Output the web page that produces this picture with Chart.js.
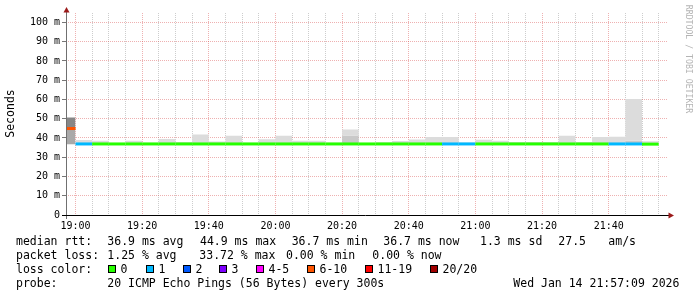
<!DOCTYPE html>
<html><head><meta charset="utf-8">
<script src="https://cdn.jsdelivr.net/npm/chart.js@4.4.1/dist/chart.umd.min.js"></script>
<style>html,body{margin:0;padding:0;background:#fff;overflow:hidden}canvas{display:block}</style>
</head><body>
<canvas id="c" width="697" height="297"></canvas>
<script>
// ---- data ----
const slotStarts = ['18:55','19:00','19:05','19:10','19:15','19:20','19:25','19:30','19:35','19:40','19:45','19:50','19:55',
  '20:00','20:05','20:10','20:15','20:20','20:25','20:30','20:35','20:40','20:45','20:50','20:55',
  '21:00','21:05','21:10','21:15','21:20','21:25','21:30','21:35','21:40','21:45','21:50'];
const slotEnd = '21:55';
const medianMs = [44.9,36.9,36.9,36.9,36.9,36.9,36.9,36.9,36.9,36.9,36.9,36.9,36.9,36.9,36.9,36.9,36.9,36.9,36.9,36.9,36.9,36.9,36.9,36.9,36.9,36.9,36.9,36.9,36.9,36.9,36.9,36.9,36.9,36.9,36.9,36.8];
const lostPings = [7,1,0,0,0,0,0,0,0,0,0,0,0,0,0,0,0,0,0,0,0,0,0,1,1,0,0,0,0,0,0,0,0,1,1,0];
const smokeLowMs = [36.7,36.6,36.6,36.6,36.6,36.6,36.6,36.6,36.6,36.6,36.6,36.6,36.6,36.6,36.6,36.6,36.6,36.6,36.6,36.6,36.6,36.6,36.6,36.6,36.6,36.6,36.6,36.6,36.6,36.6,36.6,36.6,36.6,36.6,36.6,36.6];
const smokeMidMs = [44.9,36.6,36.6,36.6,36.6,36.6,36.6,36.6,36.6,36.6,36.6,36.6,36.6,36.6,36.6,36.6,36.6,41.2,36.6,36.6,36.6,36.6,36.6,36.6,36.6,36.6,36.6,36.6,36.6,36.6,36.6,36.6,36.6,36.6,38.6,36.6];
const smokeTopMs = [50.6,39.0,38.6,37.4,38.6,37.5,39.5,37.9,41.8,38.2,41.2,37.5,39.4,41.2,38.5,38.5,37.5,44.4,37.4,37.8,38.4,39.2,40.5,40.5,37.6,39.1,38.6,37.9,37.9,37.9,41.1,37.9,40.5,40.7,60.2,38.3];
const xTickLabels = ['19:00','19:20','19:40','20:00','20:20','20:40','21:00','21:20','21:40'];
const yTickLabels = ['0','10 m','20 m','30 m','40 m','50 m','60 m','70 m','80 m','90 m','100 m'];
const lossBuckets = ['0','1','2','3','4-5','6-10','11-19','20/20'];
const lossColors = ['#26ff00','#00b8ff','#0059ff','#7e00ff','#ff00ff','#ff5500','#ff0000','#a10000'];
const rttStats = ['36.9 ms avg','44.9 ms max','36.7 ms min','36.7 ms now','1.3 ms sd','27.5','am/s'];
const lossStats = ['1.25 % avg','33.72 % max','0.00 % min','0.00 % now'];
const probeText = '20 ICMP Echo Pings (56 Bytes) every 300s';
const stampText = 'Wed Jan 14 21:57:09 2026';

// ---- helpers ----
const toMin = s => { const [h,m] = s.split(':').map(Number); return (h-19)*60 + m; };
const slotEndMin = i => i+1 < slotStarts.length ? toMin(slotStarts[i+1]) : toMin(slotEnd);
const pts = arr => slotStarts.map((s,i)=>({x:toMin(s), y:arr[i]})).concat([{x:toMin(slotEnd), y:arr[arr.length-1]}]);
// median as separate horizontal pieces (start, end, gap) per slot
const medianPts = () => { const out=[]; slotStarts.forEach((s,i)=>{ out.push({x:toMin(s), y:medianMs[i]}, {x:slotEndMin(i), y:medianMs[i]}, {x:slotEndMin(i), y:null}); }); return out; };
const lossIdx = n => n<=0?0 : n===1?1 : n===2?2 : n===3?3 : n<=5?4 : n<=10?5 : n<20?6 : 7;
const MAJOR = 'rgba(215,70,70,0.42)', MINOR = 'rgba(130,130,130,0.40)';
const MONO = '"DejaVu Sans Mono", monospace';

const decor = {
  id:'decor',
  afterDraw(chart){
    const ctx = chart.ctx, a = chart.chartArea;
    ctx.save();
    // axes
    ctx.lineWidth = 1;
    ctx.strokeStyle = '#707070';
    ctx.beginPath(); ctx.moveTo(a.left+0.5, a.bottom+4); ctx.lineTo(a.left+0.5, 11); ctx.stroke();
    ctx.strokeStyle = '#000';
    ctx.beginPath(); ctx.moveTo(a.left-4, a.bottom+0.5); ctx.lineTo(a.right+1, a.bottom+0.5); ctx.stroke();
    ctx.fillStyle = '#9b1a1a';
    ctx.beginPath(); ctx.moveTo(a.left+0.5, 7); ctx.lineTo(a.left-2.5, 12.5); ctx.lineTo(a.left+3.5, 12.5); ctx.closePath(); ctx.fill();
    ctx.beginPath(); ctx.moveTo(a.right+6, a.bottom+0.5); ctx.lineTo(a.right+0.5, a.bottom-2.5); ctx.lineTo(a.right+0.5, a.bottom+3.5); ctx.closePath(); ctx.fill();
    // y title
    ctx.fillStyle = '#000';
    ctx.font = '11.5px ' + MONO;
    ctx.textAlign = 'center'; ctx.textBaseline = 'middle';
    ctx.save(); ctx.translate(11, 113.5); ctx.rotate(-Math.PI/2); ctx.fillText('Seconds', 0, 0); ctx.restore();
    // watermark
    ctx.save(); ctx.fillStyle = '#b4b4b4'; ctx.font = '8.2px ' + MONO;
    ctx.translate(688.5, 59); ctx.rotate(Math.PI/2); ctx.fillText('RRDTOOL / TOBI OETIKER', 0, 0); ctx.restore();
    // legend
    ctx.textAlign = 'left'; ctx.textBaseline = 'alphabetic';
    ctx.font = '11.5px ' + MONO; ctx.fillStyle = '#000';
    const row1 = [[16,'median rtt:'],[107.3,rttStats[0]],[200,rttStats[1]],[291.7,rttStats[2]],[383.3,rttStats[3]],[480,rttStats[4]],[558.3,rttStats[5]],[608.3,rttStats[6]]];
    const row2 = [[16,'packet loss:'],[107.3,lossStats[0]],[199.3,lossStats[1]],[286,lossStats[2]],[372.3,lossStats[3]]];
    const row4 = [[16,'probe:'],[107.3,probeText],[513.3,stampText]];
    row1.forEach(([x,t])=>ctx.fillText(t,x,244.5));
    row2.forEach(([x,t])=>ctx.fillText(t,x,258.5));
    row4.forEach(([x,t])=>ctx.fillText(t,x,286.5));
    ctx.fillText('loss color:',16,272.5);
    const swX = [108,146,183,219,256,307,365,430];
    lossBuckets.forEach((b,i)=>{
      ctx.fillStyle = lossColors[i]; ctx.fillRect(swX[i],265,8,8);
      ctx.strokeStyle = '#000'; ctx.strokeRect(swX[i]+0.5,265.5,7,7);
      ctx.fillStyle = '#000'; ctx.fillText(b, swX[i]+12.5, 272.5);
    });
    ctx.restore();
  }
};

const lineBase = {stepped:true, pointRadius:0, borderWidth:0, borderColor:'rgba(0,0,0,0)', showLine:true};
new Chart(document.getElementById('c'), {
  type:'line',
  data:{datasets:[
    Object.assign({}, lineBase, {label:'low', data:pts(smokeLowMs), fill:false, order:3}),
    Object.assign({}, lineBase, {label:'mid', data:pts(smokeMidMs), fill:'-1', backgroundColor:'#c9c9c9', order:2,
      segment:{backgroundColor: c => c.p0DataIndex===0 ? '#a9a9a9' : undefined}}),
    Object.assign({}, lineBase, {label:'top', data:pts(smokeTopMs), fill:'-1', backgroundColor:'#dcdcdc', order:1,
      segment:{backgroundColor: c => c.p0DataIndex===0 ? '#878787' : undefined}}),
    {label:'median', data:medianPts(), pointRadius:0, borderWidth:3, borderCapStyle:'butt', fill:false, order:0, spanGaps:false,
      borderColor: lossColors[0],
      segment:{borderColor: c => lossColors[lossIdx(lostPings[Math.floor(c.p0DataIndex/3)])]}}
  ]},
  options:{
    responsive:false, animation:false, devicePixelRatio:1,
    layout:{padding:{left:0, top:13, right:29, bottom:0}},
    plugins:{legend:{display:false}, tooltip:{enabled:false}, title:{display:false}},
    scales:{
      x:{type:'linear', min:-2.85, max:177.8,
        afterBuildTicks: s => { const t=[]; for(let v=0; v<=175; v+=5) t.push({value:v}); s.ticks=t; },
        afterFit: s => { s.height = 82; },
        ticks:{autoSkip:false, maxRotation:0, padding:5, color:'#000', font:{family:MONO, size:10},
          callback: v => { const i = xTickLabels.findIndex(l => toMin(l)===v); return i>=0 ? xTickLabels[i] : ''; }},
        grid:{color: c => (c.tick && c.tick.value%20===0) ? MAJOR : MINOR, drawTicks:false, lineWidth:1},
        border:{display:false, dash:[1,1]}
      },
      y:{min:0, max:104.9,
        afterBuildTicks: s => { const t=[]; for(let v=0; v<=100; v+=5) t.push({value:v}); s.ticks=t; },
        afterFit: s => { s.width = 66; },
        ticks:{padding:2, color:'#000', font:{family:MONO, size:10},
          callback: v => v%10===0 ? yTickLabels[v/10] : ''},
        grid:{color: c => (c.tick && c.tick.value%10===0) ? MAJOR : MINOR, lineWidth:1, tickLength:4,
          tickColor: c => (c.tick && c.tick.value%10===0) ? '#777' : 'rgba(0,0,0,0)'},
        border:{display:false, dash:[1,1]}
      }
    }
  },
  plugins:[decor]
});
</script>
</body></html>
